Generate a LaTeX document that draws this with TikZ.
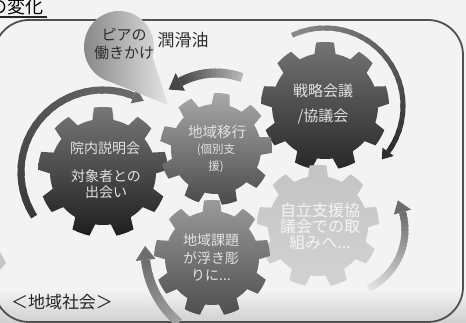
\documentclass[tikz,border=0pt]{standalone}
\usepackage{fontspec}
\newfontfamily\jp{Noto Sans CJK JP}
\usetikzlibrary{arrows.meta}
\definecolor{bgcol}{HTML}{F3F3F3}
\definecolor{bandcol}{HTML}{D0D0D0}
\definecolor{framecol}{HTML}{505050}
\definecolor{txtdark}{HTML}{2E2E2E}
\definecolor{txtlight}{HTML}{E2E2E2}
\definecolor{gAtop}{HTML}{777777}\definecolor{gAbot}{HTML}{1E1E1E}
\definecolor{gBtop}{HTML}{A8A8A8}\definecolor{gBbot}{HTML}{4A4A4A}
\definecolor{gCtop}{HTML}{747474}\definecolor{gCbot}{HTML}{282828}
\definecolor{gDtop}{HTML}{C4C4C4}\definecolor{gDbot}{HTML}{D2D2D2}
\definecolor{gEtop}{HTML}{9A9A9A}\definecolor{gEbot}{HTML}{4E4E4E}
\definecolor{aAs}{HTML}{3A3A3A}\definecolor{aAe}{HTML}{6A6A6A}
\definecolor{aBs}{HTML}{B5B5B5}\definecolor{aBe}{HTML}{474747}
\definecolor{aCs}{HTML}{8A8A8A}\definecolor{aCe}{HTML}{2E2E2E}
\definecolor{aDs}{HTML}{E2E2E2}\definecolor{aDe}{HTML}{6E6E6E}
\definecolor{aEs}{HTML}{A0A0A0}\definecolor{aEe}{HTML}{6E6E6E}
\definecolor{callL}{HTML}{868686}\definecolor{callR}{HTML}{E4E4E4}
% gear: cx cy R r rot topcolor bottomcolor
\newcommand{\gearshape}[7]{%
  \begin{scope}[shift={(#1,#2)}]
  \shade[top color=#6,bottom color=#7] ({#5+70}:#4)
    \foreach \k [evaluate=\k as \a using #5+90+40*\k] in {0,...,8}{
      arc[start angle=\a-20, end angle=\a-11.5, radius=#4]
      -- ({\a-8}:#3)
      arc[start angle=\a-8, end angle=\a+8, radius=#3]
      -- ({\a+11.5}:#4)
      arc[start angle=\a+11.5, end angle=\a+20, radius=#4]
    } -- cycle;
  \end{scope}}
% gradient arc arrow: cx cy r a0 a1 c0 c1 lw headwidth
\newcommand{\gradarc}[9]{%
  \begin{scope}[shift={(#1,#2)}]
  \foreach \s in {0,...,23}{
    \pgfmathsetmacro\sa{#4+(#5-#4)*\s/24}
    \pgfmathsetmacro\sb{#4+(#5-#4)*min(\s+1.5,24)/24}
    \pgfmathsetmacro\pc{100*\s/23}
    \draw[line width=#8, draw=#7!\pc!#6] (\sa:#3) arc[start angle=\sa, end angle=\sb, radius=#3];
  }
  \pgfmathsetmacro\dr{(#5-#4)/abs(#5-#4)}
  \pgfmathsetmacro\hd{\dr*(#9*0.7)/(#3)*57.2958}
  \fill[#7] ({#5}:{#3-#9/2}) -- ({#5}:{#3+#9/2}) -- ({#5+\hd}:#3) -- cycle;
  \end{scope}}
\tikzset{
  geartext/.style={text=txtlight, align=center, inner sep=0pt, font=\jp},
  labeltext/.style={text=txtdark, align=center, inner sep=0pt, font=\jp}
}
\begin{document}
\begin{tikzpicture}[x=1pt,y=1pt]
\useasboundingbox (0,0) rectangle (466,323);
% background
\fill[bgcol] (0,0) rectangle (466,323);
\shade[top color=bgcol, bottom color=bandcol] (0,0) rectangle (466,34);
% frame and title
\draw[line width=1.8, draw=framecol, rounded corners=35] (-6,1) rectangle (463,303);
\draw[line width=1.2, draw=black!85] (0,306) -- (47,306);
\node[anchor=base east, inner sep=0pt, font=\jp\fontsize{18}{18}\selectfont, text=black] (title) at (44,309) {の変化};
% small cut-off shape at left
\fill[gray!45] (0,71) -- (6,60) -- (0,53) -- cycle;
% arrows
\gradarc{103}{151}{82}{213}{68}{aAs}{aAe}{7}{16}
\gradarc{216}{174}{76}{70}{118}{aBs}{aBe}{9}{20}
\gradarc{325}{217}{78}{115}{-36}{aCs}{aCe}{5}{14}
\gradarc{340}{93}{65}{-64}{16}{aDs}{aDe}{7}{18}
\gradarc{240}{73}{95}{230}{186}{aEs}{aEe}{9}{20}
% gears
\gearshape{103}{151}{65}{53}{0}{gAtop}{gAbot}
\gearshape{325}{217}{64}{53}{0}{gCtop}{gCbot}
\gearshape{318}{97}{61}{50}{0}{gDtop}{gDbot}
\gearshape{212}{65}{58}{47}{0}{gEtop}{gEbot}
\gearshape{216}{174}{56}{45}{-6}{gBtop}{gBbot}
% gear texts
\node[geartext, font=\jp\fontsize{14}{14}\selectfont] (g1a) at (105,175) {院内説明会};
\node[geartext, font=\jp\fontsize{14}{16}\selectfont] (g1b) at (106,139) {対象者との\\出会い};
\node[geartext, font=\jp\fontsize{14.5}{14.5}\selectfont] (g2a) at (217,191) {地域移行};
\node[geartext, font=\jp\fontsize{11.5}{17}\selectfont] (g2b) at (216,164.5) {(個別支\\援)};
\node[geartext, font=\jp\fontsize{15}{25}\selectfont] (g3) at (323,218.5) {戦略会議\\/協議会};
\node[geartext, text=white!96!black, font=\jp\fontsize{16}{16}\selectfont] (g4) at (320,97) {自立支援協\\議会での取\\組みへ...};
\node[geartext, font=\jp\fontsize{14}{17.5}\selectfont] (g5) at (211,65.5) {地域課題\\が浮き彫\\りに...};
% callout
\begin{scope}[shift={(119,276)}]
\shade[left color=callL, right color=callR] (49,-58) -- (-16:35 and 36)
  arc[start angle=-16, end angle=255, x radius=35, y radius=36] -- cycle;
\end{scope}
\node[labeltext, font=\jp\fontsize{15}{18}\selectfont] (peer) at (124,279) {ピアの\\働きかけ};
\node[labeltext, font=\jp\fontsize{17}{17}\selectfont] (oil) at (183,283) {潤滑油};
\node[labeltext, text=black!85, font=\jp\fontsize{17}{17}\selectfont] (society) at (62,21) {＜地域社会＞};
\end{tikzpicture}
\end{document}
